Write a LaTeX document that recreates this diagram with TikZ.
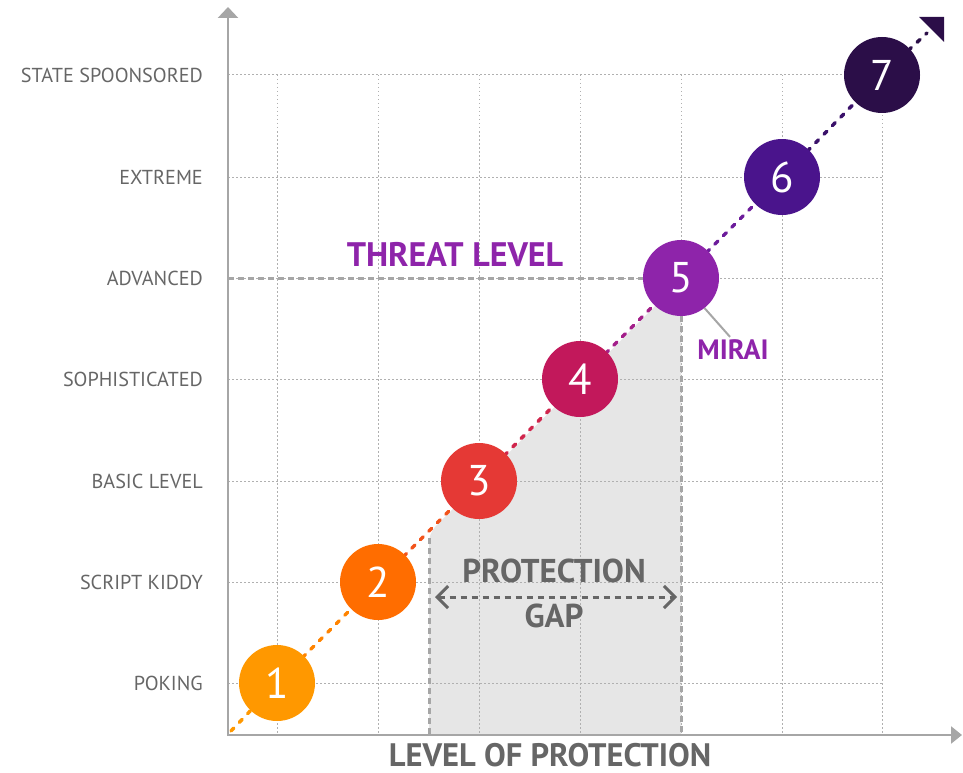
\documentclass[tikz,border=0pt]{standalone}
\usepackage{fontspec}
\setmainfont{PT Sans}
\usetikzlibrary{arrows.meta}
\definecolor{cA}{HTML}{FF9800}
\definecolor{cB}{HTML}{FF6D00}
\definecolor{cC}{HTML}{E53935}
\definecolor{cD}{HTML}{C2185B}
\definecolor{cE}{HTML}{8E24AA}
\definecolor{cF}{HTML}{4A148C}
\definecolor{cG}{HTML}{2B0E48}
\definecolor{txtgray}{HTML}{666666}
\definecolor{axisgray}{HTML}{A6A6A6}
\definecolor{gridgray}{HTML}{B0B0B0}
\definecolor{gapfill}{HTML}{E6E6E6}
\tikzset{
  gridline/.style={gridgray, line width=1pt, dash pattern=on 1.5pt off 2.5pt},
  guide/.style={axisgray, line width=3pt, dash pattern=on 6pt off 4pt},
  axisline/.style={axisgray, line width=2.5pt},
  diag/.style={line width=3.5pt, line cap=round, dash pattern=on 4pt off 8pt},
  bubble/.style={circle, minimum size=76pt, inner sep=0pt, text=white, font=\fontsize{43}{43}\selectfont},
  lvl/.style={anchor=east, inner sep=0pt, text=txtgray, font=\fontsize{20.2}{20.2}\selectfont},
  bigbold/.style={inner sep=0pt, text=txtgray, font=\fontsize{33}{33}\selectfont\bfseries},
}
\begin{document}
\begin{tikzpicture}[x=1pt,y=-1pt]
\useasboundingbox (0,0) rectangle (963,773);
% protection gap shading
\fill[gapfill] (429,735) [rounded corners=9pt] -- (429,533) [sharp corners] -- (681,280) -- (681,735) -- cycle;
% grid
\foreach \x in {277,378,479,580,681,782,882} \draw[gridline] (\x,75) -- (\x,735);
\foreach \y in {75,177,278,379,481,582,683} \draw[gridline] (228,\y) -- (882,\y);
% circles positions
\coordinate (p1) at (277,683);
\coordinate (p2) at (378,582);
\coordinate (p3) at (479,481);
\coordinate (p4) at (580,379);
\coordinate (p5) at (681,278);
\coordinate (p6) at (782,177);
\coordinate (p7) at (882,75);
\coordinate (dstart) at (231,731);
\coordinate (dend) at (927,33);
% guides
\coordinate (gl) at (228,278);
\coordinate (gb5) at (681,735);
\coordinate (gtop) at (429,538);
\coordinate (gbot) at (429,735);
\draw[guide] (gl) -- ([xshift=-38pt]p5);
\draw[guide] ([yshift=-38pt]p5) -- (gb5);
\draw[guide] (gtop) -- (gbot);
% axes
\coordinate (origin) at (228,736);
\coordinate (ytip) at (228,7);
\coordinate (xorigin) at (227,735);
\coordinate (xtip) at (962,735);
\draw[axisline, -{Triangle[width=20pt,length=11pt]}] (origin) -- (ytip);
\draw[axisline, -{Triangle[width=17pt,length=11pt]}] (xorigin) -- (xtip);
% diagonal dotted line
\draw[diag, cA] (dstart) -- (p1);
\draw[diag, cA!50!cB] (p1) -- (p2);
\draw[diag, cB!50!cC] (p2) -- (p3);
\draw[diag, cC!40!cD] (p3) -- (p4);
\draw[diag, cD!40!cE] (p4) -- (p5);
\draw[diag, cE!50!cF] (p5) -- (p6);
\draw[diag, cF!50!cG] (p6) -- (p7);
\draw[diag, cG] (p7) -- (dend);
\fill[cG] (919,17) -- (944,17) -- (944,42) -- cycle;
% bubbles
\node[bubble, fill=cA] (c1) at (p1) {1};
\node[bubble, fill=cB] (c2) at (p2) {2};
\node[bubble, fill=cC] (c3) at (p3) {3};
\node[bubble, fill=cD] (c4) at (p4) {4};
\node[bubble, fill=cE] (c5) at (p5) {5};
\node[bubble, fill=cF] (c6) at (p6) {6};
\node[bubble, fill=cG] (c7) at (p7) {7};
% level labels
\node[lvl] (l7) at (203,75) {STATE SPOONSORED};
\node[lvl] (l6) at (203,177) {EXTREME};
\node[lvl] (l5) at (203,278) {ADVANCED};
\node[lvl] (l4) at (203,379) {SOPHISTICATED};
\node[lvl] (l3) at (203,481) {BASIC LEVEL};
\node[lvl] (l2) at (203,582) {SCRIPT KIDDY};
\node[lvl] (l1) at (203,683) {POKING};
% titles
\node[bigbold, text=cE, font=\fontsize{34}{34}\selectfont\bfseries] (threat) at (455,255) {THREAT LEVEL};
\node[bigbold, font=\fontsize{32.5}{32.5}\selectfont\bfseries] (xlabel) at (550,755) {LEVEL OF PROTECTION};
\node[bigbold] (prot) at (554,571) {PROTECTION};
\node[bigbold] (gap) at (554,616) {GAP};
\coordinate (ga) at (435,597);
\coordinate (gbp) at (677,597);
\draw[txtgray, line width=3pt, dash pattern=on 6pt off 5pt, {Straight Barb[length=11pt,width=22pt]}-{Straight Barb[length=11pt,width=22pt]}] (ga) -- (gbp);
% mirai
\node[inner sep=0pt, text=cE, font=\fontsize{28}{28}\selectfont\bfseries] (mirai) at (733,350) {MIRAI};
\draw[axisgray, line width=2pt] (c5.-52) -- ([xshift=-3pt,yshift=3pt]mirai.north);
\end{tikzpicture}
\end{document}
